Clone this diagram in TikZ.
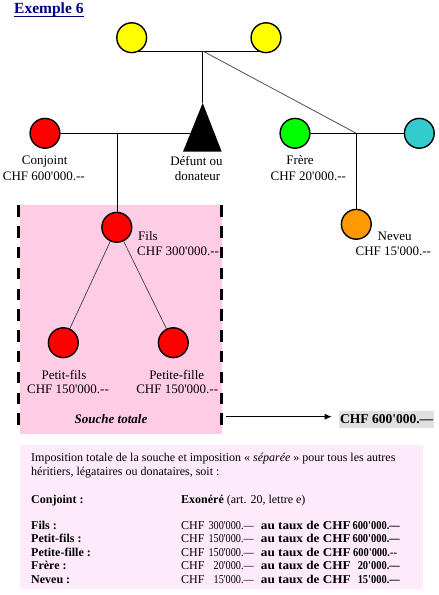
\documentclass[tikz,border=0pt]{standalone}
\usepackage{fontspec}
\usepackage{graphicx}
\setmainfont{Liberation Serif}[Ligatures=TeXOff]
\usetikzlibrary{arrows.meta,calc}
\pgfdeclarelayer{back}
\pgfdeclarelayer{bg}
\pgfsetlayers{back,bg,main}
\definecolor{yel}{HTML}{FFFF00}
\definecolor{rd}{HTML}{FF0000}
\definecolor{grn}{HTML}{00FF00}
\definecolor{cyn}{HTML}{33CCCC}
\definecolor{org}{HTML}{FF9900}
\definecolor{pinkbox}{HTML}{FFCCE6}
\definecolor{lightbox}{HTML}{FDEBFC}
\definecolor{graybg}{HTML}{E0E0E0}
\definecolor{navy}{HTML}{000080}
\newcommand\nrw[1]{\scalebox{0.85}[1]{#1}}
\newcommand\nrb[1]{\scalebox{0.87}[1]{#1}}
\newcommand\wdb[1]{\scalebox{1.1}[1]{#1}}
\begin{document}
\begin{tikzpicture}[x=1pt,y=-1pt,
  pers/.style={circle, draw=black, line width=1.4pt, minimum size=29.8pt, inner sep=0pt},
  ln/.style={line width=1pt, black},
  tln/.style={line width=0.75pt, black!72},
  lab/.style={font=\fontsize{13}{15}\selectfont, anchor=base, inner sep=0pt},
  labw/.style={lab, anchor=base west},
  btx/.style={font=\fontsize{12}{14}\selectfont, anchor=base west, inner sep=0pt},
  btxe/.style={btx, anchor=base east},
  bb/.style={font=\bfseries\fontsize{12}{14}\selectfont},
  dashedge/.style={line width=3pt, black, dash pattern=on 11.5pt off 9.3pt}]
\useasboundingbox (0,0) rectangle (439,595);

% title
\node[font=\bfseries\fontsize{15.5}{17}\selectfont, text=navy, anchor=base west, inner sep=0pt] (title) at (14,13.5) {Exemple 6};
\draw[navy, line width=1pt] ([yshift=-2.6pt]title.base west) -- ([yshift=-2.6pt]title.base east);

% persons
\node[pers, fill=yel] (y1) at (131.7,37.7) {};
\node[pers, fill=yel] (y2) at (266,37.7) {};
\node[pers, fill=rd] (conj) at (45,133.3) {};
\node[pers, fill=grn] (fre) at (295,133.3) {};
\node[pers, fill=cyn] (cya) at (419.3,133.3) {};
\node[pers, fill=org] (nev) at (356.3,224.3) {};
\node[pers, fill=rd] (fils) at (116.8,227.3) {};
\node[pers, fill=rd] (pf1) at (63.3,342.7) {};
\node[pers, fill=rd] (pf2) at (173.3,342.7) {};
\coordinate (apex) at (202.7,103);
\fill[black] (apex) -- (183,151.7) -- (221.7,151.7) -- cycle;

% junctions
\coordinate (j1) at (202.7,51);
\coordinate (j2) at (356.3,133.3);
\coordinate (j3) at (117,133.3);

% backgrounds
\begin{pgfonlayer}{back}
\fill[pinkbox] (20,205) rectangle (221.7,434);
\fill[lightbox] (20,445) rectangle (422.7,588.5);
\end{pgfonlayer}

% connectors
\begin{pgfonlayer}{bg}
\draw[ln] (y1 |- j1) -- (y2 |- j1);
\draw[ln] (j1) -- (apex);
\draw[tln] (j1) -- (j2);
\draw[ln] (conj) -- (conj -| apex);
\draw[ln] (j3) -- (j3 |- fils.north);
\draw[ln] (fre) -- (cya);
\draw[ln] (j2) -- (nev.north);
\draw[tln] (fils) -- (pf1);
\draw[tln] (fils) -- (pf2);
\end{pgfonlayer}

% dashed edges of the stirps box
\coordinate (dl1) at (18.7,205.3);
\coordinate (dl2) at (18.7,427);
\coordinate (dr1) at (221.7,205.3);
\coordinate (dr2) at (221.7,427);
\draw[dashedge] (dl1) -- (dl2);
\draw[dashedge] (dr1) -- (dr2);

% labels
\node[lab] (conjL) at (44.7,164.3) {Conjoint};
\node[lab] (conjA) at (43.8,180) {CHF 600'000.--};
\node[lab] (defL1) at (196.5,165) {Défunt ou};
\node[lab] (defL2) at (197.5,180) {donateur};
\node[lab] (freL) at (300,164.3) {Frère};
\node[lab] (freA) at (308.3,180) {CHF 20'000.--};
\node[lab] (nevL) at (394.7,240.7) {Neveu};
\node[lab] (nevA) at (393.3,255.7) {CHF 15'000.--};
\node[labw] (filsL) at (138,240.7) {Fils};
\node[labw] (filsA) at (137,255.7) {CHF 300'000.--};
\node[lab] (pf1L) at (64,379) {Petit-fils};
\node[lab] (pf1A) at (68,393.3) {CHF 150'000.--};
\node[lab] (pf2L) at (176.7,379) {Petite-fille};
\node[lab] (pf2A) at (177.2,393.3) {CHF 150'000.--};
\node[lab, font=\bfseries\itshape\fontsize{13}{15}\selectfont] (souche) at (111,423.3) {Souche totale};

% total
\coordinate (arS) at (226,416.7);
\node[fill=graybg, font=\bfseries\fontsize{13.5}{15}\selectfont, inner xsep=1pt, inner ysep=0pt, minimum height=16.7pt, anchor=west] (tot) at (339,419.3) {CHF 600'000.—};
\coordinate (arE) at ($(arS -| tot.west)+(-7.3,0)$);
\draw[line width=1pt, -{Latex[length=7pt,width=6pt]}] (arS) -- (arE);

% bottom text
\node[btx] (t1) at (31,461) {Imposition totale de la souche et imposition « \textit{séparée} » pour tous les autres};
\node[btx] (t2) at (31,475) {héritiers, légataires ou donataires, soit :};
\node[btx, bb] (r0n) at (31,503) {Conjoint :};
\node[btx] (r0v) at (181,503) {\textbf{Exonéré} (art. 20, lettre e)};

\node[btx, bb] (r1n) at (31,529.3) {Fils :};
\node[btx] (r1c) at (181,529.3) {CHF};
\node[btxe] (r1a) at (254,529.3) {\nrw{300'000.—}};
\node[btx, bb] (r1t) at (260.7,529.3) {\wdb{au taux de CHF}};
\node[btxe, bb] (r1b) at (400,529.3) {\nrb{600'000.—}};

\node[btx, bb] (r2n) at (31,542.8) {Petit-fils :};
\node[btx] (r2c) at (181,542.8) {CHF};
\node[btxe] (r2a) at (254,542.8) {\nrw{150'000.—}};
\node[btx, bb] (r2t) at (260.7,542.8) {\wdb{au taux de CHF}};
\node[btxe, bb] (r2b) at (400,542.8) {\nrb{600'000.—}};

\node[btx, bb] (r3n) at (31,556.3) {Petite-fille :};
\node[btx] (r3c) at (181,556.3) {CHF};
\node[btxe] (r3a) at (254,556.3) {\nrw{150'000.—}};
\node[btx, bb] (r3t) at (260.7,556.3) {\wdb{au taux de CHF}};
\node[btx, bb] (r3b) at (353,556.3) {\nrb{600'000.--}};

\node[btx, bb] (r4n) at (31,569.8) {Frère :};
\node[btx] (r4c) at (181,569.8) {CHF};
\node[btxe] (r4a) at (254,569.8) {\nrw{20'000.—}};
\node[btx, bb] (r4t) at (260.7,569.8) {\wdb{au taux de CHF}};
\node[btxe, bb] (r4b) at (400,569.8) {\nrb{20'000.—}};

\node[btx, bb] (r5n) at (31,583.3) {Neveu :};
\node[btx] (r5c) at (181,583.3) {CHF};
\node[btxe] (r5a) at (254,583.3) {\nrw{15'000.—}};
\node[btx, bb] (r5t) at (260.7,583.3) {\wdb{au taux de CHF}};
\node[btxe, bb] (r5b) at (400,583.3) {\nrb{15'000.—}};
\end{tikzpicture}
\end{document}
